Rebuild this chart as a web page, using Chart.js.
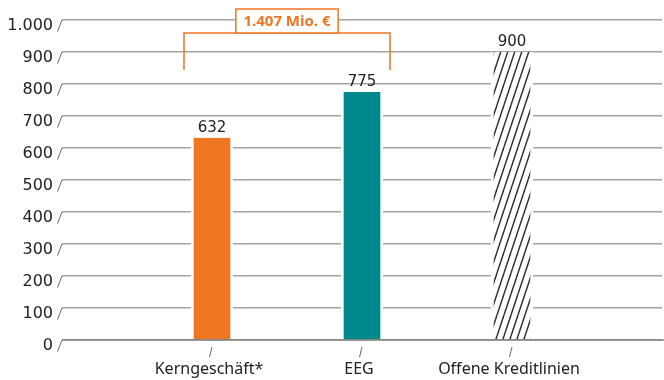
<!DOCTYPE html>
<html>
<head>
<meta charset="utf-8">
<script src="https://cdn.jsdelivr.net/npm/chart.js@4.4.1/dist/chart.umd.min.js"></script>
<style>
  html, body { margin: 0; padding: 0; background: #fff; }
</style>
</head>
<body>
<canvas id="chart" width="664" height="380"></canvas>
<script>
// data
var categories = ["", "Kerngeschäft*", "EEG", "Offene Kreditlinien", ""];
var values = [null, 632, 775, 900, null];
var yTicks = [0, 100, 200, 300, 400, 500, 600, 700, 800, 900, 1000];
var bracketLabel = "1.407 Mio. €";
var bracketBars = [1, 2]; // Kerngeschäft + EEG

var orange = "#ee7623";
var teal = "#00898c";

function fmt(v) {
    // German thousands separator
    var s = String(v);
    return s.length > 3 ? s.slice(0, -3) + "." + s.slice(-3) : s;
}

function hatchPattern() {
    var c = document.createElement("canvas");
    c.width = 7; c.height = 21;
    var g = c.getContext("2d");
    g.fillStyle = "#fff";
    g.fillRect(0, 0, 7, 21);
    g.strokeStyle = "#2b2b2b";
    g.lineWidth = 1.4;
    [-7, 0, 7].forEach(function (o) {
        g.beginPath();
        g.moveTo(o, 21);
        g.lineTo(o + 7, 0);
        g.stroke();
    });
    return g.createPattern(c, "repeat");
}

var extras = {
    id: "extras",
    afterDatasetsDraw: function (chart) {
        var c = chart.ctx, xs = chart.scales.x, ys = chart.scales.y, a = chart.chartArea;
        c.save();

        // zero line
        c.strokeStyle = "#85857f";
        c.lineWidth = 1.5;
        c.beginPath();
        c.moveTo(a.left, ys.getPixelForValue(0));
        c.lineTo(a.right + 2, ys.getPixelForValue(0));
        c.stroke();

        // slanted y tick marks
        c.strokeStyle = "#666";
        c.lineWidth = 1;
        yTicks.forEach(function (v) {
            var y = ys.getPixelForValue(v);
            c.beginPath();
            c.moveTo(a.left - 4.5, y + 11.5);
            c.lineTo(a.left, y);
            c.stroke();
        });

        // slanted x tick marks
        categories.forEach(function (name, i) {
            if (!name) return;
            var x = xs.getPixelForValue(i);
            c.beginPath();
            c.moveTo(x - 2.5, a.bottom + 17);
            c.lineTo(x, a.bottom + 7);
            c.stroke();
        });

        // value labels
        c.fillStyle = "#222";
        c.font = "15px 'DejaVu Sans'";
        c.textAlign = "center";
        c.textBaseline = "alphabetic";
        values.forEach(function (v, i) {
            if (v == null) return;
            c.fillText(fmt(v), xs.getPixelForValue(i), ys.getPixelForValue(v) - 6);
        });

        // bracket over first two bars
        var left = xs.getPixelForValue(bracketBars[0]) - 28;
        var right = xs.getPixelForValue(bracketBars[1]) + 28;
        var top = ys.getPixelForValue(1000) + 13;
        var bottom = top + 37;
        c.strokeStyle = orange;
        c.lineWidth = 1.5;
        c.beginPath();
        c.moveTo(left, bottom);
        c.lineTo(left, top);
        c.lineTo(right, top);
        c.lineTo(right, bottom);
        c.stroke();

        c.font = "bold 15px 'Open Sans'";
        var tw = c.measureText(bracketLabel).width;
        var bw = tw + 15, bh = 24;
        var cx = (left + right) / 2;
        c.fillStyle = "#fff";
        c.fillRect(cx - bw / 2, top - bh, bw, bh);
        c.strokeRect(cx - bw / 2, top - bh, bw, bh);
        c.fillStyle = orange;
        c.textBaseline = "middle";
        c.fillText(bracketLabel, cx, top - bh / 2 + 1);

        c.restore();
    }
};

var ctx = document.getElementById("chart").getContext("2d");
var chart = new Chart(ctx, {
    type: "bar",
    data: {
        labels: categories,
        datasets: [{
            data: values,
            backgroundColor: [null, orange, teal, hatchPattern(), null],
            borderColor: "#fff",
            borderWidth: { left: 3, right: 3, top: 0, bottom: 0 },
            borderSkipped: false,
            barThickness: 42
        }]
    },
    options: {
        responsive: false,
        animation: false,
        devicePixelRatio: 1,
        layout: { padding: { top: 20, right: 2, left: 0, bottom: 0 } },
        plugins: {
            legend: { display: false },
            tooltip: { enabled: false }
        },
        scales: {
            x: {
                offset: false,
                grid: { display: false, drawTicks: true, tickLength: 20 },
                border: { display: false },
                ticks: {
                    color: "#222",
                    font: { family: "'Noto Sans'", size: 16 },
                    padding: 0,
                    labelOffset: -3,
                    maxRotation: 0,
                    autoSkip: false
                },
                afterFit: function (s) { s.height = 40; }
            },
            y: {
                min: 0,
                max: 1000,
                grid: { color: "#a3a39d", lineWidth: 1.5, drawTicks: false },
                border: { display: false },
                ticks: {
                    stepSize: 100,
                    color: "#222",
                    font: { family: "'DejaVu Sans'", size: 16 },
                    padding: 9,
                    labelOffset: 6,
                    callback: function (v) { return fmt(v); }
                },
                afterFit: function (s) { s.width = 62; }
            }
        }
    },
    plugins: [extras]
});
</script>
</body>
</html>
